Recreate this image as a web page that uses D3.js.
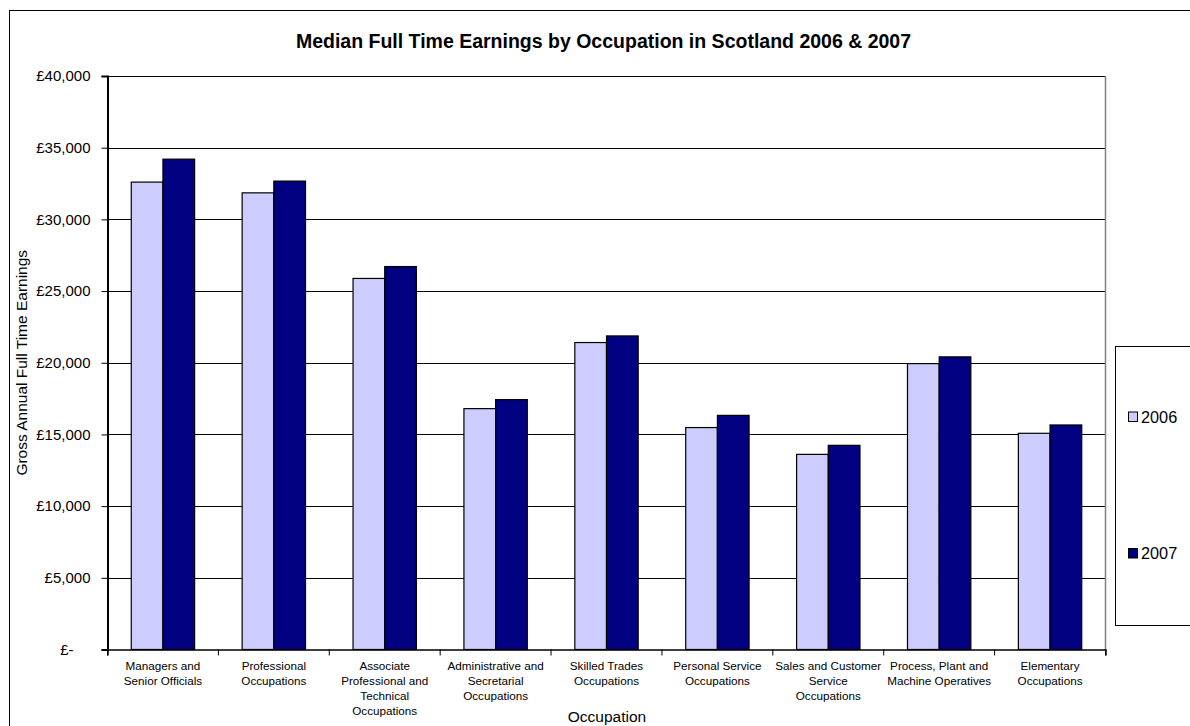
<!DOCTYPE html>
<html>
<head>
<meta charset="utf-8">
<script src="https://cdn.jsdelivr.net/npm/d3@7"></script>
<style>
  html, body { margin: 0; padding: 0; background: #fff; }
  svg { display: block; font-family: Arial, "Liberation Sans", sans-serif; }
</style>
</head>
<body>
<svg id="chart" width="1190" height="726"></svg>
<script>
// ---- data ----
const categories = [
  ["Managers and", "Senior Officials"],
  ["Professional", "Occupations"],
  ["Associate", "Professional and", "Technical", "Occupations"],
  ["Administrative and", "Secretarial", "Occupations"],
  ["Skilled Trades", "Occupations"],
  ["Personal Service", "Occupations"],
  ["Sales and Customer", "Service", "Occupations"],
  ["Process, Plant and", "Machine Operatives"],
  ["Elementary", "Occupations"]
];
const seriesNames = ["2006", "2007"];
const values2006 = [32600, 31850, 25880, 16800, 21410, 15480, 13610, 19940, 15080];
const values2007 = [34200, 32670, 26710, 17430, 21870, 16330, 14240, 20410, 15660];
const yTicks = [0, 5000, 10000, 15000, 20000, 25000, 30000, 35000, 40000];
const colors = { "2006": "#CCCCFF", "2007": "#000080" };

// ---- layout ----
const svg = d3.select("#chart");
const plot = { left: 107.5, right: 1105.5, top: 76, bottom: 649.5 };

// outer chart border
svg.append("rect").attr("x", 9.5).attr("y", 10.5).attr("width", 1300).attr("height", 900)
  .attr("fill", "#fff").attr("stroke", "#000").attr("stroke-width", 1);

const catIdx = categories.map((d, i) => i);
const x = d3.scaleBand().domain(catIdx).range([plot.left, plot.right]).paddingInner(0).paddingOuter(0);
const xs = d3.scaleBand().domain(seriesNames).range([0, x.bandwidth()]).paddingInner(0).paddingOuter(0.75);
const y = d3.scaleLinear().domain([0, 40000]).range([plot.bottom, plot.top]);

// gridlines
svg.append("g").selectAll("line").data(yTicks.filter(d => d > 0)).join("line")
  .attr("x1", plot.left).attr("x2", plot.right)
  .attr("y1", d => Math.round(y(d)) + 0.5).attr("y2", d => Math.round(y(d)) + 0.5)
  .attr("stroke", "#000").attr("stroke-width", 1);

// plot right border
svg.append("line").attr("x1", plot.right).attr("x2", plot.right)
  .attr("y1", y(40000)).attr("y2", plot.bottom)
  .attr("stroke", "#808080").attr("stroke-width", 1.5);

// bars
const data = [];
categories.forEach((c, i) => {
  data.push({ i, s: "2006", v: values2006[i] });
  data.push({ i, s: "2007", v: values2007[i] });
});
svg.append("g").selectAll("rect").data(data).join("rect")
  .attr("x", d => x(d.i) + xs(d.s))
  .attr("y", d => y(d.v))
  .attr("width", xs.bandwidth())
  .attr("height", d => y(0) - y(d.v))
  .attr("fill", d => colors[d.s])
  .attr("stroke", "#000").attr("stroke-width", 1.2);

// y axis
const yAxis = d3.axisLeft(y).tickValues(yTicks).tickSize(6).tickPadding(10)
  .tickFormat(d => d === 0 ? "£-" : "£" + d3.format(",")(d));
const yg = svg.append("g").attr("transform", `translate(${plot.left},0)`).call(yAxis);
yg.select(".domain").attr("stroke", "#000").attr("stroke-width", 2);
yg.selectAll(".tick line").attr("stroke", "#000");
yg.selectAll(".tick text").attr("font-size", "15px").attr("fill", "#000")
  .attr("font-family", "Arial, 'Liberation Sans', sans-serif")
  .attr("x", d => d === 0 ? -34 : -17);

// x axis
const xAxis = d3.axisBottom(x).tickSize(6).tickFormat("");
const xg = svg.append("g").attr("transform", `translate(0,${plot.bottom})`).call(xAxis);
xg.select(".domain").attr("stroke", "#000").attr("stroke-width", 1.5);
xg.selectAll(".tick").remove();
// boundary ticks
const bounds = catIdx.map(i => x(i)).concat([plot.right]);
xg.selectAll("line.b").data(bounds).join("line").attr("class", "b")
  .attr("x1", d => d).attr("x2", d => d).attr("y1", 0).attr("y2", 6)
  .attr("stroke", "#000");

// category labels
const lbl = svg.append("g");
categories.forEach((lines, i) => {
  const t = lbl.append("text").attr("text-anchor", "middle")
    .attr("font-size", "11.7px").attr("fill", "#000");
  lines.forEach((ln, k) => {
    t.append("tspan").attr("x", x(i) + x.bandwidth() / 2).attr("y", 670 + k * 15).text(ln);
  });
});

// axis titles
svg.append("text").attr("x", 607).attr("y", 722).attr("text-anchor", "middle")
  .attr("font-size", "15.5px").text("Occupation");
svg.append("text").attr("transform", `translate(27,${(plot.top + plot.bottom) / 2}) rotate(-90)`)
  .attr("text-anchor", "middle").attr("font-size", "15.5px").text("Gross Annual Full Time Earnings");

// title
svg.append("text").attr("x", 603.5).attr("y", 48).attr("text-anchor", "middle")
  .attr("font-size", "19.5px").attr("font-weight", "bold")
  .text("Median Full Time Earnings by Occupation in Scotland 2006 & 2007");

// legend
const lg = svg.append("g");
lg.append("rect").attr("x", 1115.5).attr("y", 346.5).attr("width", 120).attr("height", 279)
  .attr("fill", "#fff").attr("stroke", "#000").attr("stroke-width", 1);
const legendY = { "2006": 412, "2007": 548.5 };
seriesNames.forEach(s => {
  lg.append("rect").attr("x", 1128.5).attr("y", legendY[s]).attr("width", 9).attr("height", 9.5)
    .attr("fill", colors[s]).attr("stroke", "#000").attr("stroke-width", 1);
  lg.append("text").attr("x", 1141).attr("y", legendY[s] + 10.5)
    .attr("font-size", "16.3px").text(s);
});
</script>
</body>
</html>
